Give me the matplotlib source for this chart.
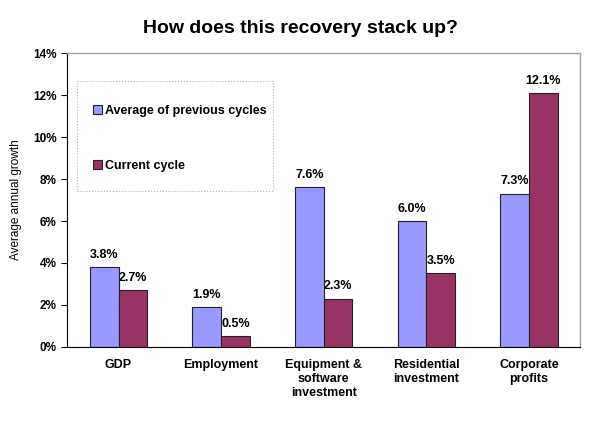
import matplotlib
matplotlib.use("Agg")
import matplotlib.pyplot as plt
import numpy as np
from matplotlib.ticker import FuncFormatter
from matplotlib.patches import Rectangle

plt.rcParams['font.family'] = ['Liberation Sans', 'DejaVu Sans']
plt.rcParams['font.weight'] = 'bold'

categories = ["GDP", "Employment", "Equipment &\nsoftware\ninvestment",
              "Residential\ninvestment", "Corporate\nprofits"]
previous = [3.8, 1.9, 7.6, 6.0, 7.3]
current = [2.7, 0.5, 2.3, 3.5, 12.1]
series_names = ["Average of previous cycles", "Current cycle"]
colors = ["#9999FF", "#993366"]

fig = plt.figure(figsize=(6.0, 4.22), dpi=100)
ax = fig.add_axes([0.112, 0.178, 0.855, 0.696])

x = np.arange(len(categories))
w = 0.28
b1 = ax.bar(x - w/2, previous, w, color=colors[0], edgecolor="#222222", linewidth=0.8, label=series_names[0])
b2 = ax.bar(x + w/2, current, w, color=colors[1], edgecolor="#222222", linewidth=0.8, label=series_names[1])

for bars, vals in ((b1, previous), (b2, current)):
    for r, v in zip(bars, vals):
        ax.text(r.get_x() + r.get_width()/2, v + 0.3, f"{v:.1f}%", ha="center", va="bottom",
                fontsize=9, fontweight="bold")

ax.set_xlim(-0.5, len(categories) - 0.5)
ax.set_ylim(0, 14)
ax.set_yticks(np.arange(0, 15, 2))
ax.yaxis.set_major_formatter(FuncFormatter(lambda v, p: f"{v:.0f}%"))
ax.set_xticks(x)
ax.set_xticklabels(categories, fontsize=9, fontweight="bold", linespacing=1.2)
ax.tick_params(axis="x", length=0, pad=9)
ax.tick_params(axis="y", labelsize=8.5, length=4, direction="out", width=0.8)
for lbl in ax.get_yticklabels():
    lbl.set_fontweight("bold")

for s in ("top", "right"):
    ax.spines[s].set_color("#A0A0A0")
    ax.spines[s].set_linewidth(1.0)
for s in ("left", "bottom"):
    ax.spines[s].set_color("#000000")
    ax.spines[s].set_linewidth(0.8)

ax.set_ylabel("Average annual growth", fontsize=8.5, fontweight="normal", labelpad=8)

fig.text(0.5, 0.933, "How does this recovery stack up?", ha="center", va="center",
         fontsize=14, fontweight="bold")

# legend frame (dotted box)
ax.add_patch(Rectangle((0.0195, 0.531), 0.382, 0.374, transform=ax.transAxes,
                       fill=False, edgecolor="#B0B0B0", linestyle=":", linewidth=0.8,
                       zorder=4))
leg = ax.legend(loc="center left", bbox_to_anchor=(0.05, 0.709), fontsize=9,
                frameon=False, handlelength=0.7, handleheight=0.7,
                handletextpad=0.3, labelspacing=3.45, borderpad=0, borderaxespad=0)
for t in leg.get_texts():
    t.set_fontweight("bold")

fig.savefig("out.png", dpi=100, facecolor="white")
